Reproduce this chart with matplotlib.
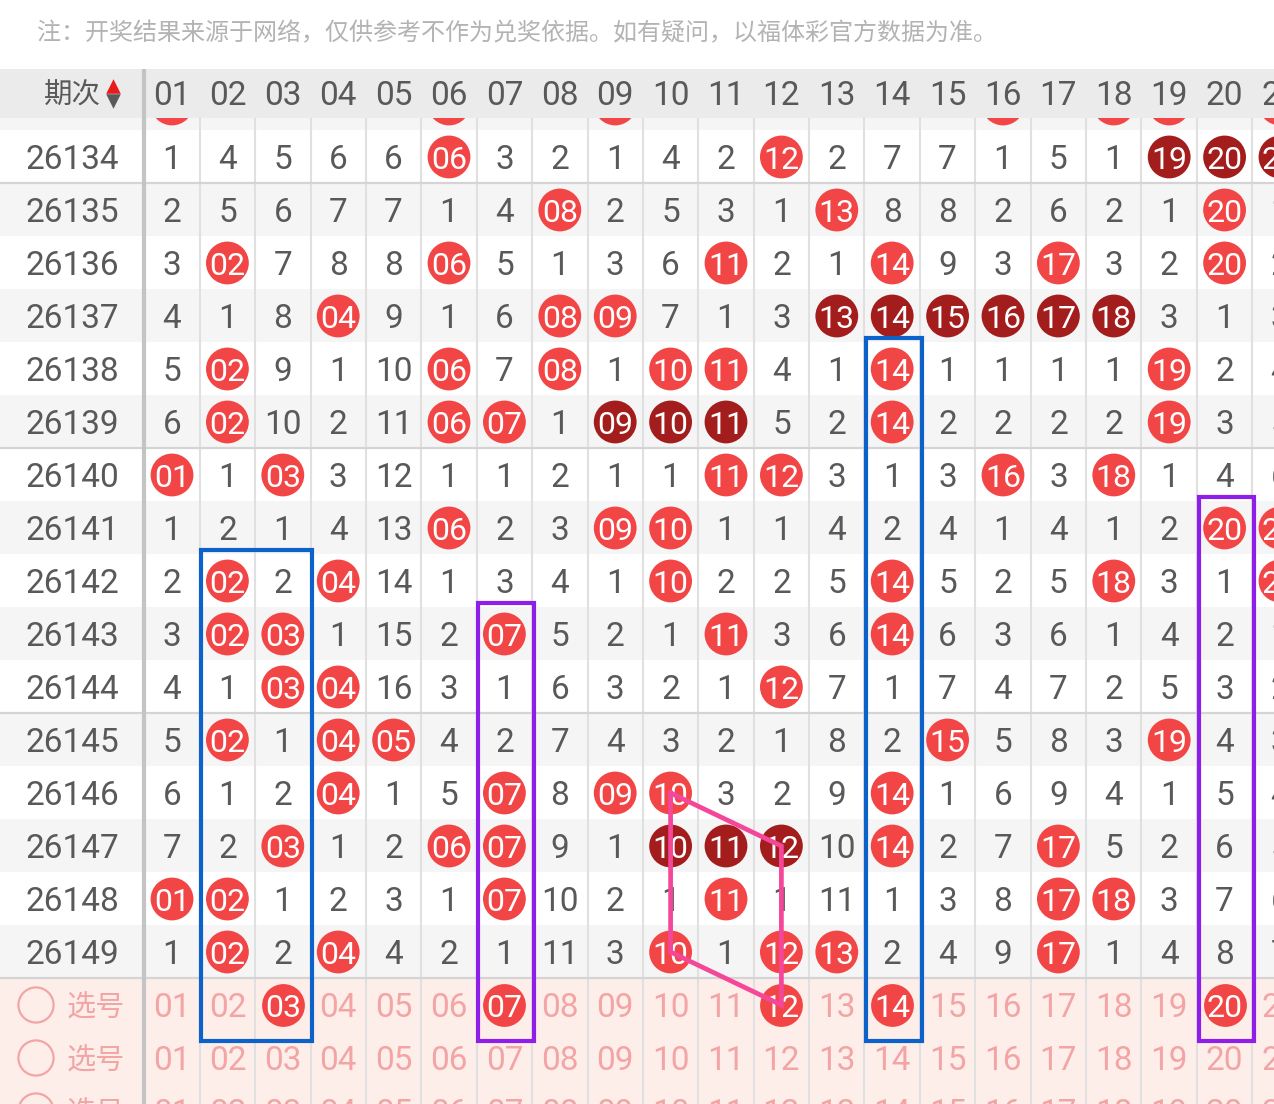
import numpy as np
import matplotlib.pyplot as plt
from matplotlib.patches import Rectangle

plt.rcParams['font.family'] = ['Noto Sans CJK SC', 'DejaVu Sans']

note = "注：开奖结果来源于网络，仅供参考不作为兑奖依据。如有疑问，以福体彩官方数据为准。"
head_label = "期次"
select_label = "选号"
numbers = [f"{i:02d}" for i in range(1, 22)]
periods = [26133, 26134, 26135, 26136, 26137, 26138, 26139, 26140, 26141,
           26142, 26143, 26144, 26145, 26146, 26147, 26148, 26149]

# omission counts per number 01..21, 0 = drawn in that period
miss = [
    [0, 3, 4, 5, 5, 0, 2, 1, 0, 3, 1, 3, 1, 6, 6, 0, 4, 0, 0, 2, 0],
    [1, 4, 5, 6, 6, 0, 3, 2, 1, 4, 2, 0, 2, 7, 7, 1, 5, 1, 0, 0, 0],
    [2, 5, 6, 7, 7, 1, 4, 0, 2, 5, 3, 1, 0, 8, 8, 2, 6, 2, 1, 0, 1],
    [3, 0, 7, 8, 8, 0, 5, 1, 3, 6, 0, 2, 1, 0, 9, 3, 0, 3, 2, 0, 2],
    [4, 1, 8, 0, 9, 1, 6, 0, 0, 7, 1, 3, 0, 0, 0, 0, 0, 0, 3, 1, 3],
    [5, 0, 9, 1, 10, 0, 7, 0, 1, 0, 0, 4, 1, 0, 1, 1, 1, 1, 0, 2, 4],
    [6, 0, 10, 2, 11, 0, 0, 1, 0, 0, 0, 5, 2, 0, 2, 2, 2, 2, 0, 3, 5],
    [0, 1, 0, 3, 12, 1, 1, 2, 1, 1, 0, 0, 3, 1, 3, 0, 3, 0, 1, 4, 6],
    [1, 2, 1, 4, 13, 0, 2, 3, 0, 0, 1, 1, 4, 2, 4, 1, 4, 1, 2, 0, 0],
    [2, 0, 2, 0, 14, 1, 3, 4, 1, 0, 2, 2, 5, 0, 5, 2, 5, 0, 3, 1, 0],
    [3, 0, 0, 1, 15, 2, 0, 5, 2, 1, 0, 3, 6, 0, 6, 3, 6, 1, 4, 2, 1],
    [4, 1, 0, 0, 16, 3, 1, 6, 3, 2, 1, 0, 7, 1, 7, 4, 7, 2, 5, 3, 2],
    [5, 0, 1, 0, 0, 4, 2, 7, 4, 3, 2, 1, 8, 2, 0, 5, 8, 3, 0, 4, 3],
    [6, 1, 2, 0, 1, 5, 0, 8, 0, 0, 3, 2, 9, 0, 1, 6, 9, 4, 1, 5, 4],
    [7, 2, 0, 1, 2, 0, 0, 9, 1, 0, 0, 0, 10, 0, 2, 7, 0, 5, 2, 6, 5],
    [0, 0, 1, 2, 3, 1, 0, 10, 2, 1, 0, 1, 11, 1, 3, 8, 0, 0, 3, 7, 6],
    [1, 0, 2, 0, 4, 2, 1, 11, 3, 0, 1, 0, 0, 2, 4, 9, 0, 1, 4, 8, 7],
]

# runs of 3+ consecutive numbers drawn dark
dark = {26134: [19, 20, 21], 26137: [13, 14, 15, 16, 17, 18],
        26139: [9, 10, 11], 26147: [10, 11, 12]}

picks = [3, 7, 12, 14, 20]   # first 选号 row
n_select = 3

# marked columns: (first number, last number, first period, colour)
boxes = [(2, 3, 26142, '#0c62c8'), (7, 7, 26143, '#8e1ee8'),
         (14, 14, 26138, '#0c62c8'), (20, 20, 26141, '#8e1ee8')]
# pink shape: (number, period or 'select')
shape = [(10, 26146), (12, 26147), (12, 'select'), (10, 26149), (10, 26146)]

RED = '#f24646'
DARK = '#a41d1d'
TXT = '#595959'
PINK_BG = '#fdeeea'
PINK_TXT = '#f3a5a5'
num_font = ['Roboto', 'DejaVu Sans']
fs = 24
base = 0.225

fig = plt.figure(figsize=(12.74, 11.04), dpi=100)
ax = fig.add_axes([0, 0, 1, 1])
ax.set_xlim(-2.105, 20.892)
ax.set_ylim(17.868, -2.962)
ax.axis('off')

first = periods[1]
sel_row = len(periods) - 1

# backgrounds
for p in periods:
    r = p - first
    ax.axhspan(r - 0.5, r + 0.5, color='#f5f5f5' if r % 2 else 'white', lw=0, zorder=0)
for k in range(n_select):
    ax.axhspan(sel_row + k - 0.5, sel_row + k + 0.5, color=PINK_BG, lw=0, zorder=0)

cols = np.arange(1, 22)
ax.vlines(cols + 0.5, -0.74, 19, color='#e0e0e0', lw=1.5, zorder=1)
ax.hlines([0.5, 5.5, 10.5, 15.5], -2.2, 22, color='#d4d4d4', lw=1.6, zorder=1)
ax.vlines(0.5, -1.66, 19, color='#c4c4c4', lw=3, zorder=8)

# draw table (the first period sits under the header, only its balls peek out)
for p, row in zip(periods, miss):
    r = p - first
    shown = r >= 0
    if shown:
        ax.text(-0.805, r + base, str(p), ha='center', va='baseline', fontsize=fs,
                color=TXT, family=num_font, zorder=4)
    hx, hy, hc = [], [], []
    for c, v in zip(cols, row):
        if v == 0:
            hx.append(c)
            hy.append(r)
            hc.append(DARK if c in dark.get(p, []) else RED)
            if shown:
                ax.text(c, r + base, numbers[c - 1], ha='center', va='baseline',
                        fontsize=fs - 1, color='white', family=num_font, zorder=4)
        elif shown:
            ax.text(c, r + base, str(v), ha='center', va='baseline',
                    fontsize=fs, color=TXT, family=num_font, zorder=4)
    ax.scatter(hx, hy, s=950, c=hc, lw=0, zorder=3)

# select rows
for k in range(n_select):
    r = sel_row + k
    ax.scatter([-1.455], [r], s=640, facecolors='none', edgecolors=PINK_TXT,
               lw=1.6, zorder=3)
    ax.text(-0.372, r + 0.07, select_label, ha='center', va='center', fontsize=21,
            color=PINK_TXT, zorder=4)
    for c in cols:
        on = k == 0 and c in picks
        if on:
            ax.scatter([c], [r], s=950, c=RED, lw=0, zorder=3)
        ax.text(c, r + base, numbers[c - 1], ha='center', va='baseline',
                fontsize=fs - 1 if on else fs, color='white' if on else PINK_TXT,
                family=num_font, zorder=4)

# marked boxes
for c1, c2, p, color in boxes:
    top = p - first - 0.58
    ax.add_patch(Rectangle((c1 - 0.47, top), c2 - c1 + 1.0, sel_row + 0.68 - top,
                           fill=False, ec=color, lw=3, zorder=5))

sx = [c for c, p in shape]
sy = [sel_row if p == 'select' else p - first for c, p in shape]
ax.plot(sx, sy, color='#f5479a', lw=3.4, solid_joinstyle='miter', zorder=5)

# header and note
ax.axhspan(-3.2, -1.66, color='white', lw=0, zorder=6)
ax.axhspan(-1.66, -0.736, color='#ebebeb', lw=0, zorder=6)
ax.text(-1.437, -2.34, note, ha='left', va='center', fontsize=17.3,
        color='#b3b3b3', zorder=7)
ax.text(-0.805, -1.16, head_label, ha='center', va='center', fontsize=20.5,
        color=TXT, zorder=7)
ax.scatter([-0.064], [-1.345], marker='^', s=110, c='#e81c1c', lw=0, zorder=7)
ax.scatter([-0.064], [-1.065], marker='v', s=110, c='#5a5a5a', lw=0, zorder=7)
for c in cols:
    ax.text(c, -1.21 + base, numbers[c - 1], ha='center', va='baseline',
            fontsize=fs, color=TXT, family=num_font, zorder=7)

fig.savefig('out.png', dpi=100)
